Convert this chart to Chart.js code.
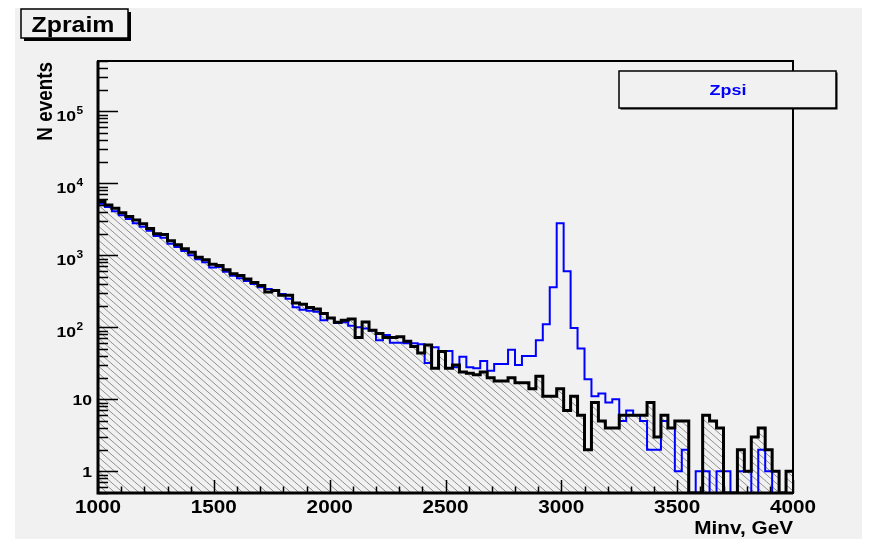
<!DOCTYPE html>
<html>
<head>
<meta charset="utf-8">
<title>Zpraim</title>
<script src="https://cdn.jsdelivr.net/npm/chart.js@4.4.1/dist/chart.umd.min.js"></script>
<style>
  html, body { margin: 0; padding: 0; background: #ffffff; }
  #wrap { width: 880px; height: 539px; }
  canvas { display: block; }
</style>
</head>
<body>
<div id="wrap"><canvas id="minvChart" width="880" height="539"></canvas></div>
<script>
// Histogram binning: 100 bins of 30 GeV between 1000 and 4000 GeV
const X_MIN = 1000;
const X_MAX = 4000;
const N_BINS = 100;
const Y_MIN = 0.5;
const Y_MAX = 5e5;

// Events per bin, black hatched histogram
const zpraimEvents = [
  5600, 5000, 4500, 3900, 3450, 3100, 2750, 2350, 2000, 1950,
  1600, 1400, 1230, 1100, 940, 870, 750, 720, 630, 555,
  525, 470, 420, 380, 310, 325, 280, 278, 217, 209,
  188, 180, 155, 135, 118, 125, 131, 72, 119, 91,
  82, 72, 72, 74, 64, 54, 44, 57, 27, 46,
  27, 30, 24, 23, 22, 24, 20, 18, 18, 20,
  17, 17, 14, 21, 11, 11, 14, 7, 11, 6,
  2, 9, 5, 4, 4, 6, 6, 6, 6, 9,
  3, 6, 4, 5, 5, 0, 0, 6, 5, 4,
  0, 0, 2, 1, 3, 4, 2, 1, 0, 1
];

// Events per bin, blue outline histogram (resonance near 3 TeV)
const zpsiEvents = [
  5200, 4700, 4100, 3600, 3200, 2800, 2500, 2200, 1850, 1750,
  1450, 1300, 1150, 1000, 880, 800, 680, 690, 590, 520,
  480, 440, 400, 360, 340, 330, 290, 250, 190, 175,
  170, 165, 125, 135, 115, 118, 105, 100, 96, 90,
  66, 78, 61, 61, 60, 60, 58, 32, 53, 47,
  47, 28, 39, 28, 27, 34, 25, 31, 31, 49,
  30, 40, 40, 66, 110, 360, 2800, 600, 98, 51,
  19, 11, 12, 9, 10, 5, 7, 6, 5, 2,
  2, 5, 4, 1, 2, 0, 1, 1, 0, 1,
  1, 0, 1, 1, 0, 2, 1, 0, 0, 0
];

// Axis labelling
const xTickValues = [1000, 1500, 2000, 2500, 3000, 3500, 4000];
const yDecades = [0, 1, 2, 3, 4, 5];

// The canvas is a stretched 700x500 ROOT pad: text gets the same stretch
const SX = 1.257;
const SY = 1.078;
const PAD_COLOR = '#f1f1f1';
const FONT = '"Liberation Sans", Arial, Helvetica, sans-serif';

// Lower bin edges
const binWidth = (X_MAX - X_MIN) / N_BINS;
const binEdges = [];
for (let i = 0; i < N_BINS; i++) binEdges.push(X_MIN + i * binWidth);

// Step points for a histogram outline; empty bins sit on the bottom of the frame
function histPoints(counts) {
  const pts = counts.map((c, i) => ({ x: binEdges[i], y: c > 0 ? c : Y_MIN }));
  pts.push({ x: X_MAX, y: pts[pts.length - 1].y });
  return pts;
}

// Diagonal "\\\\" fill like ROOT fill style 3005
function makeHatch() {
  const tile = document.createElement('canvas');
  tile.width = 8;
  tile.height = 7;
  const t = tile.getContext('2d');
  t.strokeStyle = 'rgba(80,80,80,0.6)';
  t.lineWidth = 1;
  [-8, 0, 8].forEach(dx => {
    t.beginPath();
    t.moveTo(dx - 8, -7);
    t.lineTo(dx + 16, 14);
    t.stroke();
  });
  return t.createPattern(tile, 'repeat');
}

function drawText(ctx, text, x, y, size, align, color, angle) {
  ctx.save();
  ctx.translate(x, y);
  ctx.scale(SX, SY);
  if (angle) ctx.rotate(angle);
  ctx.font = 'bold ' + size + 'px ' + FONT;
  ctx.fillStyle = color || '#000000';
  ctx.textAlign = align || 'left';
  ctx.textBaseline = 'alphabetic';
  ctx.fillText(text, 0, 0);
  ctx.restore();
}

// Box with ROOT-style shadow on the right and bottom
function drawPave(ctx, x0, y0, x1, y1, shadow) {
  ctx.save();
  ctx.fillStyle = '#000000';
  ctx.fillRect(x0 + shadow, y0 + shadow, x1 - x0, y1 - y0);
  ctx.fillStyle = PAD_COLOR;
  ctx.fillRect(x0, y0, x1 - x0, y1 - y0);
  ctx.strokeStyle = '#000000';
  ctx.lineWidth = 1.5;
  ctx.strokeRect(x0, y0, x1 - x0, y1 - y0);
  ctx.restore();
}

// Pad background, frame, inward ticks, labels and the two text boxes
const rootPad = {
  id: 'rootPad',
  beforeDraw(chart) {
    const ctx = chart.ctx;
    ctx.save();
    ctx.fillStyle = '#ffffff';
    ctx.fillRect(0, 0, chart.width, chart.height);
    ctx.fillStyle = PAD_COLOR;
    ctx.fillRect(15, 8, 847, 531);
    ctx.restore();
  },
  afterDraw(chart) {
    const ctx = chart.ctx;
    const area = chart.chartArea;
    const xs = chart.scales.x;
    const ys = chart.scales.y;

    ctx.save();
    ctx.strokeStyle = '#000000';
    ctx.lineWidth = 2;
    ctx.strokeRect(area.left, area.top, area.right - area.left, area.bottom - area.top);
    ctx.lineWidth = 3;
    ctx.beginPath();
    ctx.moveTo(area.left, area.top);
    ctx.lineTo(area.left, area.bottom);
    ctx.lineTo(area.right, area.bottom);
    ctx.stroke();

    // x ticks every 100 GeV, longer at the labelled ones
    ctx.beginPath();
    for (let v = X_MIN; v <= X_MAX; v += 100) {
      const px = Math.round(xs.getPixelForValue(v)) + 0.5;
      const len = v % 500 === 0 ? 13 : 6.5;
      ctx.moveTo(px, area.bottom);
      ctx.lineTo(px, area.bottom - len);
    }
    ctx.lineWidth = 1.5;
    ctx.stroke();

    // y ticks: decades and 2..9 subdivisions
    ctx.beginPath();
    for (let d = -1; d <= 5; d++) {
      for (let m = 1; m <= 9; m++) {
        const v = m * Math.pow(10, d);
        if (v < Y_MIN || v > Y_MAX) continue;
        const py = Math.round(ys.getPixelForValue(v)) + 0.5;
        const len = m === 1 ? 20 : 10;
        ctx.moveTo(area.left, py);
        ctx.lineTo(area.left + len, py);
      }
    }
    ctx.lineWidth = 1.5;
    ctx.stroke();
    ctx.restore();

    xTickValues.forEach(v => {
      drawText(ctx, String(v), xs.getPixelForValue(v), 513, 16.5, 'center');
    });

    yDecades.forEach(d => {
      const py = ys.getPixelForValue(Math.pow(10, d));
      if (d === 0) {
        drawText(ctx, '1', 92, py + 5.5, 14, 'right');
      } else if (d === 1) {
        drawText(ctx, '10', 92, py + 5.5, 14, 'right');
      } else {
        drawText(ctx, '10', 76, py + 10, 14, 'right');
        drawText(ctx, String(d), 76.5, py + 2.5, 9.5, 'left');
      }
    });

    drawText(ctx, 'N events', 51.5, 62, 17.5, 'right', '#000000', -Math.PI / 2);
    drawText(ctx, 'Minv, GeV', 793, 534, 16.5, 'right');

    drawPave(ctx, 21, 9, 128, 38, 3);
    drawText(ctx, 'Zpraim', 31.5, 31.5, 19.8, 'left');

    drawPave(ctx, 619, 71, 836, 108, 1.5);
    drawText(ctx, 'Zpsi', 728, 94.5, 14.3, 'center', '#0000ff');
  }
};

const ctx = document.getElementById('minvChart').getContext('2d');
new Chart(ctx, {
  type: 'line',
  data: {
    datasets: [
      {
        label: 'Zpraim fill',
        data: histPoints(zpraimEvents),
        stepped: 'before',
        borderWidth: 0,
        pointRadius: 0,
        fill: 'start',
        backgroundColor: makeHatch(),
        order: 3
      },
      {
        label: 'Zpsi',
        data: histPoints(zpsiEvents),
        stepped: 'before',
        borderColor: '#0000ff',
        borderWidth: 2,
        pointRadius: 0,
        fill: false,
        borderJoinStyle: 'miter',
        order: 2
      },
      {
        label: 'Zpraim',
        data: histPoints(zpraimEvents),
        stepped: 'before',
        borderColor: '#000000',
        borderWidth: 3,
        pointRadius: 0,
        fill: false,
        borderJoinStyle: 'miter',
        order: 1
      }
    ]
  },
  options: {
    responsive: false,
    devicePixelRatio: 1,
    animation: false,
    layout: { padding: { left: 98, top: 61, right: 87, bottom: 46 } },
    plugins: {
      legend: { display: false },
      tooltip: { enabled: false }
    },
    scales: {
      x: { type: 'linear', min: X_MIN, max: X_MAX, display: false },
      y: { type: 'logarithmic', min: Y_MIN, max: Y_MAX, display: false }
    }
  },
  plugins: [rootPad]
});
</script>
</body>
</html>
